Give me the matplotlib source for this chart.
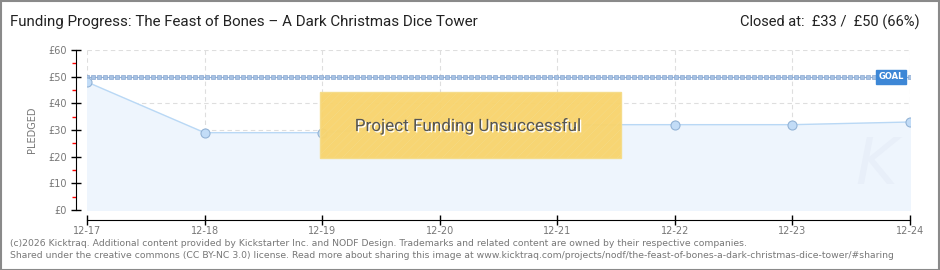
import numpy as np
import matplotlib
matplotlib.use('Agg')
import matplotlib.pyplot as plt
from matplotlib.patches import Rectangle
import matplotlib.patheffects as pe

days = ['12-17', '12-18', '12-19', '12-20', '12-21', '12-22', '12-23', '12-24']
pledged = [48, 29, 29, 32, 32, 32, 32, 33]
goal = 50
y_ticks = [0, 10, 20, 30, 40, 50, 60]
y_labels = ['£0', '£10', '£20', '£30', '£40', '£50', '£60']

title = 'Funding Progress: The Feast of Bones \u2013 A Dark Christmas Dice Tower'
status = 'Closed at:  £33 /  £50 (66%)'
footer1 = ('(c)2026 Kicktraq. Additional content provided by Kickstarter Inc. and NODF Design. '
           'Trademarks and related content are owned by their respective companies.')
footer2 = ('Shared under the creative commons (CC BY-NC 3.0) license. Read more about sharing this image at '
           'www.kicktraq.com/projects/nodf/the-feast-of-bones-a-dark-christmas-dice-tower/#sharing')

W, H = 940, 270
fig = plt.figure(figsize=(W / 100, H / 100), dpi=100)
fig.patch.set_facecolor('white')
fig.patches.append(Rectangle((0.5 / W, 0.5 / H), 1 - 1.5 / W, 1 - 1.5 / H, transform=fig.transFigure,
                             fill=False, edgecolor='#8a8a8a', linewidth=1.5))

ax = fig.add_axes([87 / W, 1 - 210 / H, (910 - 87) / W, 160 / H])
x = np.arange(len(days))
ax.set_xlim(0, len(days) - 1)
ax.set_ylim(0, 60)

ax.fill_between(x, pledged, 0, color='#eef5fd', zorder=1)
ax.plot(x, pledged, color='#b9d8f5', linewidth=1, zorder=3)
ax.plot(x, pledged, linestyle='none', marker='o', markersize=6.5, markerfacecolor='#c2dcf7',
        markeredgecolor='#93b3d6', markeredgewidth=0.8, zorder=4)

# goal line
ax.plot([0, len(days) - 1], [goal, goal], color='#8fb0da', linewidth=0.8, zorder=2)
ax.plot(np.linspace(0, len(days) - 1, 138), [goal] * 138, linestyle='none', marker='s', markersize=2.6,
        markerfacecolor='#a9c3e3', markeredgecolor='#8aa9d2', markeredgewidth=0.5, zorder=2)
ax.text(0.977, goal, 'GOAL', transform=ax.get_yaxis_transform(), ha='center', va='center',
        fontsize=6, color='white', fontweight='bold', zorder=6,
        bbox=dict(boxstyle='square,pad=0.3', facecolor='#3d87d6', edgecolor='#3d87d6'))

ax.grid(True, color='#dedede', linestyle=(0, (4, 3)), linewidth=0.8)
ax.set_axisbelow(True)
for s in ['top', 'right']:
    ax.spines[s].set_visible(False)
ax.spines['left'].set_position(('outward', 8))
ax.spines['bottom'].set_position(('outward', 7.2))
ax.spines['left'].set_bounds(0, 60)

ax.set_yticks(y_ticks)
ax.set_yticklabels(y_labels)
ax.set_yticks([5, 15, 25, 35, 45, 55], minor=True)
ax.tick_params(axis='y', which='major', direction='inout', length=7, width=1, colors='black',
               labelcolor='#777777', labelsize=7, pad=3)
ax.tick_params(axis='y', which='minor', direction='out', length=3, width=1, color='red')
ax.set_xticks(x)
ax.set_xticklabels(days)
ax.tick_params(axis='x', direction='inout', length=7, width=1, colors='black',
               labelcolor='#777777', labelsize=7, pad=1)
ax.set_ylabel('PLEDGED', fontsize=7, color='#777777', labelpad=8)

# unsuccessful banner
matplotlib.rcParams['hatch.color'] = '#efc95f'
banner = Rectangle((1.98, 19.5), 2.56, 24.7, facecolor='#f8d46e', edgecolor='#f5dc8a',
                   linewidth=1, alpha=0.97, zorder=7, hatch='////')
banner.set_hatch_linewidth(0.3)
ax.add_patch(banner)
ax.text(3.24, 31.5, 'Project Funding Unsuccessful', ha='center', va='center', fontsize=12.3,
        color='#555555', zorder=8, family='Roboto',
        path_effects=[pe.withSimplePatchShadow(offset=(1, -1), shadow_rgbFace='white', alpha=1)])

# watermark
ax.text(0.985, 0.08, 'K', transform=ax.transAxes, ha='right', va='bottom', fontsize=46,
        style='italic', color='#e8eff9', zorder=1.5)

fig.text(10 / W, 1 - 22 / H, title, fontsize=10.9, color='#222222', va='center', ha='left', family='Roboto')
fig.text(920 / W, 1 - 22 / H, status, fontsize=10.5, color='#222222', va='center', ha='right', family='Roboto')
fig.text(10 / W, 1 - 243 / H, footer1, fontsize=6.7, color='#777777', va='center', ha='left')
fig.text(10 / W, 1 - 256 / H, footer2, fontsize=6.7, color='#777777', va='center', ha='left')

fig.savefig('out.png', dpi=100)
